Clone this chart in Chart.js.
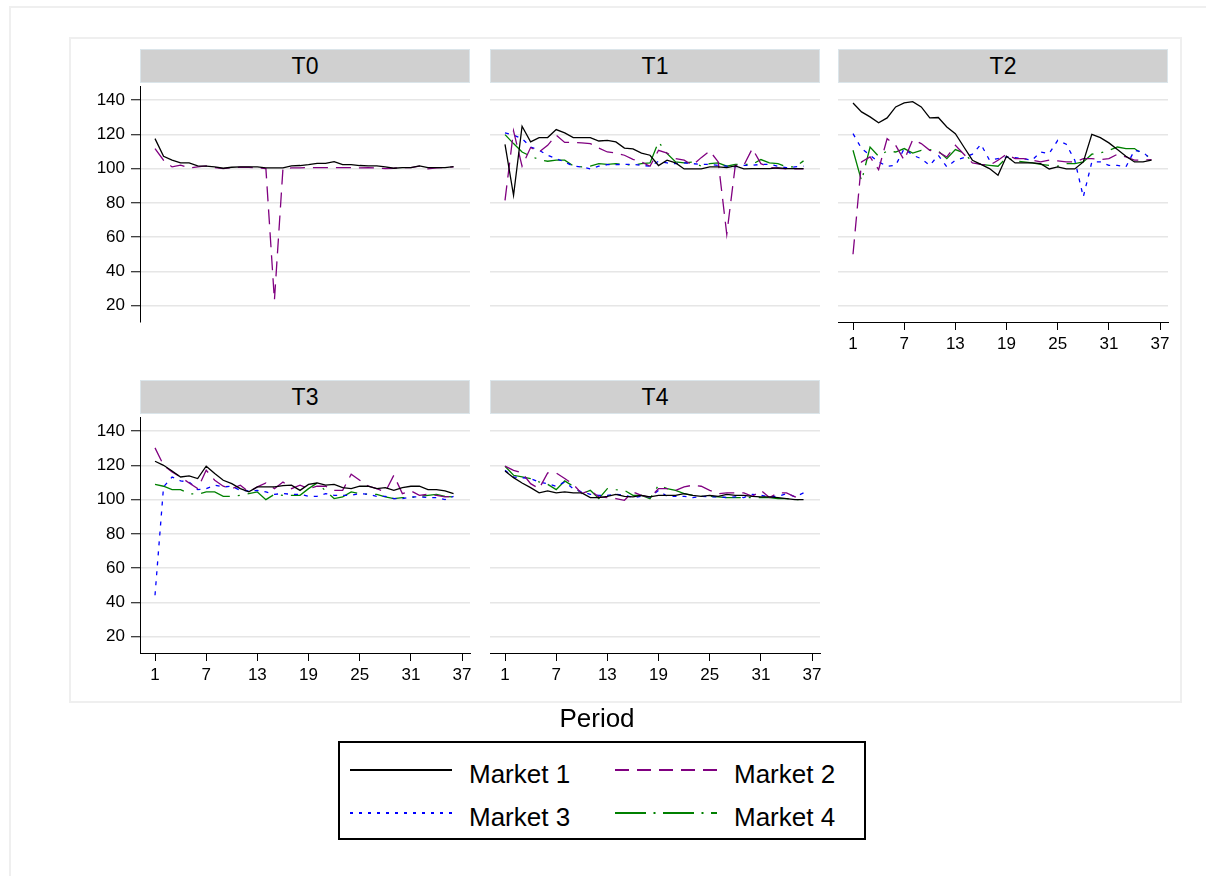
<!DOCTYPE html>
<html>
<head>
<meta charset="utf-8">
<script src="https://cdn.jsdelivr.net/npm/chart.js@4.4.0/dist/chart.umd.min.js"></script>
<style>
  html, body { margin: 0; padding: 0; background: #fff; overflow: hidden; }
  body { width: 1206px; height: 876px; position: relative; font-family: "Liberation Sans", Arial, sans-serif; }
  .outer { position: absolute; left: 9px; top: 6px; width: 1300px; height: 1000px; border-left: 2px solid #efefef; border-top: 2px solid #efefef; }
  .inner { position: absolute; left: 69px; top: 37px; width: 1113px; height: 666px; border: 2px solid #efefef; box-sizing: border-box; }
  .strip { position: absolute; width: 330px; height: 34px; box-sizing: border-box; background: #d0d0d0; border: 1px solid #dbe5ea; text-align: center; font-size: 23px; line-height: 32px; color: #000; }
  canvas.panel { position: absolute; }
  .xtitle { position: absolute; left: 497px; top: 705px; width: 200px; text-align: center; font-size: 26px; line-height: 26px; color: #000; }
  .legend { position: absolute; left: 338px; top: 741px; width: 528px; height: 99px; box-sizing: border-box; border: 2px solid #000; }
  .legend svg { position: absolute; left: 0; top: 0; }
  .legend .lab { position: absolute; font-size: 26px; line-height: 26px; color: #000; white-space: nowrap; }
</style>
</head>
<body>
<div class="outer"></div>
<div class="inner"></div>

<div class="strip" style="left:140px; top:49px;">T0</div>
<div class="strip" style="left:490px; top:49px;">T1</div>
<div class="strip" style="left:838px; top:49px;">T2</div>
<div class="strip" style="left:140px; top:380px;">T3</div>
<div class="strip" style="left:490px; top:380px;">T4</div>

<canvas class="panel" id="t0"></canvas>
<canvas class="panel" id="t1"></canvas>
<canvas class="panel" id="t2"></canvas>
<canvas class="panel" id="t3"></canvas>
<canvas class="panel" id="t4"></canvas>

<div class="xtitle">Period</div>

<div class="legend">
  <svg width="528" height="99">
    <line x1="10" y1="27" x2="112" y2="27" stroke="#000" stroke-width="2"/>
    <line x1="275" y1="27" x2="377" y2="27" stroke="#800080" stroke-width="2" stroke-dasharray="14 8"/>
    <line x1="10" y1="70" x2="112" y2="70" stroke="#0000ff" stroke-width="2" stroke-dasharray="3 6"/>
    <line x1="275" y1="70" x2="377" y2="70" stroke="#008000" stroke-width="2" stroke-dasharray="31 7.5 2 7.5"/>
  </svg>
  <div class="lab" style="left:129px; top:18px;">Market 1</div>
  <div class="lab" style="left:394px; top:18px;">Market 2</div>
  <div class="lab" style="left:129px; top:61px;">Market 3</div>
  <div class="lab" style="left:394px; top:61px;">Market 4</div>
</div>

<script>
// periods on the x axis
const periods = [1, 2, 3, 4, 5, 6, 7, 8, 9, 10, 11, 12, 13, 14, 15, 16, 17, 18,
                 19, 20, 21, 22, 23, 24, 25, 26, 27, 28, 29, 30, 31, 32, 33, 34, 35, 36];
const markets = ["Market 1", "Market 2", "Market 3", "Market 4"];
const xTicks = [1, 7, 13, 19, 25, 31, 37];
const yTicks = [20, 40, 60, 80, 100, 120, 140];

// T0 (markets 3 and 4 not present)
const t0m1 = [117.5, 107.2, 104.9, 103.3, 103.3, 101.6, 101.4, 101.0, 100.2, 100.8, 101.0, 101.0, 101.0, 100.4, 100.4, 100.4, 101.6, 101.8,
              102.3, 103.1, 103.1, 104.1, 102.3, 102.3, 101.8, 101.6, 101.6, 101.0, 100.2, 100.6, 100.6, 101.6, 100.6, 100.6, 100.6, 101.2];
const t0m2 = [111.7, 104.9, 101.0, 102.0, 100.4, 101.0, 101.6, 100.6, 100.0, 100.6, 100.8, 100.8, 100.4, 100.0, 23.2, 100.0, 100.4, 100.4,
              100.6, 100.6, 100.6, 100.6, 100.6, 100.6, 100.4, 100.6, 100.4, 100.0, 100.2, 100.6, 100.6, 101.4, 99.8, 100.4, 100.6, 101.0];
const t0m3 = [];
const t0m4 = [];

// T1
const t1m1 = [114.2, 84.4, 124.7, 115.6, 118.1, 118.1, 122.8, 120.8, 118.1, 118.1, 118.1, 116.1, 116.5, 115.6, 112.0, 111.5, 109.1, 107.8,
              101.8, 104.9, 103.3, 99.8, 99.8, 99.8, 101.0, 101.0, 100.6, 101.6, 99.8, 100.0, 100.0, 100.0, 100.4, 100.0, 100.0, 100.0];
const t1m2 = [81.5, 122.0, 101.4, 112.3, 109.7, 113.6, 119.5, 115.3, 115.3, 115.0, 114.6, 112.0, 109.7, 109.1, 107.8, 105.4, 103.9, 101.4,
              110.7, 109.1, 105.8, 104.9, 101.9, 106.4, 110.3, 103.9, 61.7, 101.9, 101.9, 111.7, 102.9, 100.6, 100.2, 99.8, 99.8, 99.8];
const t1m3 = [120.8, 119.5, 117.5, 112.6, 110.7, 107.8, 105.8, 103.9, 101.4, 101.0, 99.8, 101.4, 102.3, 102.3, 102.5, 102.5, 101.9, 101.4,
              104.3, 103.3, 102.9, 103.3, 102.9, 102.5, 102.5, 101.9, 101.4, 101.0, 101.9, 101.9, 102.5, 102.5, 101.4, 100.6, 101.0, 101.4];
const t1m4 = [119.8, 114.6, 109.7, 107.2, 105.3, 104.3, 104.9, 104.9, 101.6, 101.0, 101.4, 102.9, 102.5, 102.9, 102.3, 102.1, 102.9, 103.3,
              115.6, 108.8, 103.9, 103.3, 103.9, 101.4, 102.9, 103.3, 101.4, 102.5, 102.5, 102.5, 105.3, 103.3, 102.9, 101.0, 101.0, 104.5];

// T2
const t2m1 = [138.3, 133.1, 130.2, 126.7, 129.6, 136.0, 138.3, 139.1, 136.0, 129.6, 129.8, 124.3, 120.4, 112.6, 104.9, 102.5, 100.0, 96.1,
              107.2, 103.3, 103.3, 103.3, 102.9, 99.8, 101.0, 99.8, 99.8, 103.9, 120.0, 118.1, 115.0, 111.1, 107.2, 103.9, 103.9, 104.9];
const t2m2 = [50.0, 103.9, 106.8, 99.4, 117.5, 113.6, 104.9, 116.9, 114.6, 110.7, 109.7, 106.8, 113.6, 108.4, 103.3, 102.5, 101.9, 104.9,
              108.4, 105.8, 105.8, 104.9, 103.9, 104.9, 104.5, 103.9, 103.9, 105.8, 105.8, 105.3, 105.8, 108.4, 106.8, 104.9, 104.9, 105.3];
const t2m3 = [120.4, 111.7, 107.8, 103.9, 101.4, 101.9, 111.7, 107.8, 105.8, 101.9, 107.8, 101.0, 104.9, 106.4, 108.4, 114.2, 104.9, 105.8,
              106.8, 106.4, 105.8, 104.9, 109.7, 108.8, 116.5, 114.2, 104.9, 83.5, 103.9, 103.9, 101.9, 101.9, 101.0, 110.7, 109.7, 104.9];
const t2m4 = [110.7, 92.8, 112.6, 107.2, 110.3, 109.7, 111.7, 109.1, 110.7, 111.1, 110.3, 105.8, 111.1, 109.1, 103.9, 102.5, 101.9, 101.4,
              106.4, 104.5, 103.9, 103.3, 102.5, 101.9, 101.4, 102.9, 102.9, 103.9, 108.4, 109.1, 110.7, 112.6, 111.7, 111.7, 108.4, 106.4];

// T3
const t3m1 = [122.4, 120.0, 116.7, 113.2, 113.8, 112.3, 119.5, 115.2, 111.3, 109.3, 106.4, 104.5, 107.4, 107.4, 107.4, 108.2, 108.4, 105.4,
              108.9, 109.7, 108.4, 108.9, 107.0, 106.4, 107.8, 107.8, 106.4, 107.0, 105.4, 107.0, 107.8, 107.8, 105.8, 105.8, 105.1, 103.5];
const t3m2 = [130.2, 120.0, 116.1, 113.2, 109.7, 106.4, 117.1, 111.3, 107.8, 106.4, 108.4, 104.5, 107.4, 109.7, 106.4, 110.3, 106.4, 108.4,
              106.4, 107.8, 107.8, 105.4, 105.4, 114.8, 111.3, 107.8, 106.4, 104.5, 114.2, 103.5, 105.1, 102.5, 103.1, 102.5, 101.6, 101.9];
const t3m3 = [44.2, 107.4, 113.2, 110.9, 110.3, 105.8, 106.4, 108.4, 107.4, 107.8, 105.4, 105.1, 105.4, 104.5, 103.1, 103.5, 103.1, 103.1,
              101.9, 101.9, 103.5, 102.5, 102.5, 102.5, 103.5, 103.1, 101.9, 101.9, 100.6, 100.6, 101.6, 101.6, 101.2, 101.2, 100.0, 101.9];
const t3m4 = [108.9, 107.8, 105.8, 105.8, 103.5, 103.1, 104.5, 104.5, 101.9, 101.9, 102.5, 103.5, 104.5, 100.0, 103.1, 102.5, 102.5, 102.5,
              106.4, 109.7, 105.1, 100.6, 101.6, 104.5, 103.5, 103.1, 103.1, 101.6, 100.6, 101.2, 101.2, 101.9, 102.5, 103.1, 101.9, 101.6];

// T4
const t4m1 = [116.7, 112.8, 109.7, 107.0, 103.9, 105.1, 103.9, 104.5, 103.9, 103.9, 101.2, 101.2, 101.9, 103.1, 101.9, 101.6, 102.5, 101.6,
              102.5, 102.5, 102.5, 103.5, 102.5, 101.9, 102.5, 101.9, 103.1, 102.5, 102.5, 101.9, 101.6, 101.6, 101.2, 100.6, 100.0, 100.0];
const t4m2 = [119.5, 117.1, 115.6, 109.3, 106.4, 115.6, 115.6, 112.3, 108.9, 103.5, 105.4, 101.6, 101.2, 100.6, 99.6, 104.5, 102.5, 101.2,
              106.4, 106.4, 105.4, 107.4, 108.4, 107.8, 105.4, 103.5, 103.9, 103.9, 103.9, 101.9, 105.4, 101.2, 103.9, 103.9, 101.6, 101.2];
const t4m3 = [117.1, 113.2, 112.8, 112.3, 110.3, 109.3, 107.8, 110.3, 106.4, 104.5, 103.1, 102.5, 102.5, 103.1, 102.5, 101.2, 101.9, 101.6,
              105.4, 101.9, 101.9, 101.9, 101.2, 101.9, 101.6, 101.6, 101.2, 101.6, 101.2, 103.1, 102.5, 101.6, 101.9, 103.5, 101.6, 103.9];
const t4m4 = [119.5, 114.2, 113.2, 112.3, 110.3, 108.9, 105.8, 110.9, 107.8, 103.5, 105.4, 100.6, 106.4, 105.8, 105.4, 102.5, 102.5, 100.6,
              108.4, 106.4, 105.4, 103.5, 102.5, 101.9, 101.9, 101.6, 101.2, 101.2, 101.2, 101.2, 101.2, 101.2, 100.6, 100.6, 100.0, 100.0];

Chart.defaults.font.family = '"Liberation Sans", Arial, sans-serif';

const lineStyles = [
  { color: "#000000", dash: [] },
  { color: "#800080", dash: [15, 8] },
  { color: "#0000ff", dash: [4, 6] },
  { color: "#008000", dash: [30, 8, 2, 8] }
];

// each panel's plot area is 330 x 236 px, placed at (left, top) on the page
function makePanel(id, left, top, hasY, hasX, series) {
  const padTop = 20;
  const padLeft = hasY ? 0 : 10;
  const yWidth = hasY ? 70 : 0;
  const w = 330 + padLeft + yWidth + 20;
  const h = 236 + padTop + 45;
  const canvas = document.getElementById(id);
  canvas.style.left = (left - padLeft - yWidth) + "px";
  canvas.style.top = (top - padTop) + "px";
  canvas.style.width = w + "px";
  canvas.style.height = h + "px";
  canvas.width = w;
  canvas.height = h;

  new Chart(canvas, {
    type: "line",
    data: {
      datasets: series.map((vals, i) => ({
        label: markets[i],
        data: periods.map((p, j) => ({ x: p, y: vals[j] === undefined ? null : vals[j] })),
        borderColor: lineStyles[i].color,
        borderDash: lineStyles[i].dash,
        borderWidth: 1.3,
        pointRadius: 0,
        tension: 0,
        fill: false
      }))
    },
    options: {
      responsive: false,
      animation: false,
      layout: { padding: { left: padLeft, right: 20, top: padTop, bottom: 0 } },
      plugins: {
        legend: { display: false },
        tooltip: { enabled: false }
      },
      scales: {
        x: {
          type: "linear",
          min: -0.76,
          max: 37.93,
          afterBuildTicks: s => { s.ticks = xTicks.map(v => ({ value: v })); },
          afterFit: s => { s.height = 45; },
          grid: { drawOnChartArea: false, drawTicks: hasX, tickLength: 8, tickColor: "#000", tickWidth: 1 },
          border: { display: hasX, color: "#000", width: 1 },
          ticks: { display: hasX, color: "#000", font: { size: 17 }, padding: 4, maxRotation: 0, autoSkip: false }
        },
        y: {
          min: 10.5,
          max: 148.2,
          afterBuildTicks: s => { s.ticks = yTicks.map(v => ({ value: v })); },
          afterFit: s => { s.width = yWidth; },
          grid: { color: "#e6e6e6", lineWidth: 1.5, drawTicks: hasY, tickLength: 9, tickColor: "#000", tickWidth: 1 },
          border: { display: hasY, color: "#000", width: 1 },
          ticks: { display: hasY, color: "#000", font: { size: 17 }, padding: 6 }
        }
      }
    }
  });
}

makePanel("t0", 140, 86, true, false, [t0m1, t0m2, t0m3, t0m4]);
makePanel("t1", 490, 86, false, false, [t1m1, t1m2, t1m3, t1m4]);
makePanel("t2", 838, 86, false, true, [t2m1, t2m2, t2m3, t2m4]);
makePanel("t3", 140, 417, true, true, [t3m1, t3m2, t3m3, t3m4]);
makePanel("t4", 490, 417, false, true, [t4m1, t4m2, t4m3, t4m4]);
</script>
</body>
</html>
